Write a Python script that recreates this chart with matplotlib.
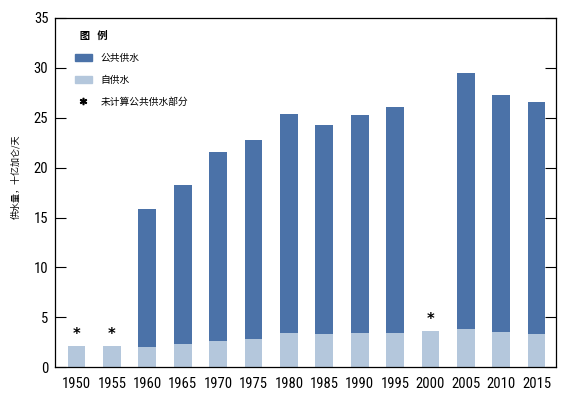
import matplotlib
matplotlib.use("Agg")
import matplotlib.pyplot as plt
from matplotlib.patches import Patch
from matplotlib.lines import Line2D

plt.rcParams['font.family'] = ['Roboto Condensed', 'Noto Sans CJK SC', 'DejaVu Sans']

years = [1950, 1955, 1960, 1965, 1970, 1975, 1980, 1985, 1990, 1995, 2000, 2005, 2010, 2015]
total = [2.1, 2.1, 15.9, 18.3, 21.6, 22.8, 25.4, 24.3, 25.3, 26.1, 3.6, 29.5, 27.3, 26.6]
self_supply = [2.1, 2.1, 2.0, 2.35, 2.6, 2.8, 3.4, 3.3, 3.4, 3.4, 3.6, 3.8, 3.5, 3.3]
not_counted = [1950, 1955, 2000]

dark = '#4b72a8'
light = '#b4c7dc'

x = list(range(len(years)))
public = [t - s for t, s in zip(total, self_supply)]

fig, ax = plt.subplots(figsize=(5.64, 3.95), dpi=100)
fig.subplots_adjust(left=0.098, right=0.986, top=0.955, bottom=0.07)

ax.bar(x, self_supply, width=0.5, color=light)
ax.bar(x, public, width=0.5, bottom=self_supply, color=dark)

for i, y in enumerate(years):
    if y in not_counted:
        ax.text(i, total[i] + 0.4, '*', ha='center', va='bottom', fontsize=10.5,
                fontweight='bold', family='DejaVu Sans')

ax.set_xlim(-0.6, len(years) - 0.45)
ax.set_ylim(0, 35)
ax.set_yticks(range(0, 36, 5))
ax.set_xticks(x)
ax.set_xticklabels([str(y) for y in years])
ax.tick_params(axis='y', direction='in', length=8, labelsize=10.5, right=True, width=0.8, pad=5)
ax.tick_params(axis='x', length=0, labelsize=10.5, pad=7)
for s in ax.spines.values():
    s.set_linewidth(0.9)

ax.set_ylabel('供水量，十亿加仑/天', fontsize=6.5,
              family=['Noto Sans CJK SC', 'DejaVu Sans'])
ax.yaxis.set_label_coords(-0.07, 0.545)

handles = [Patch(color=dark), Patch(color=light),
           Line2D([], [], ls='', marker='$*$', color='black', markersize=4.5)]
labels = ['公共供水', '自供水', '未计算公共供水部分']
leg = ax.legend(handles, labels, title='  图   例', loc='upper left', frameon=False,
                bbox_to_anchor=(0.031, 0.975), borderaxespad=0,
                prop={'family': ['Noto Sans CJK SC'], 'size': 7},
                handlelength=1.8, handleheight=0.8, labelspacing=1.25,
                handletextpad=0.85)
leg.get_title().set_fontfamily(['Noto Sans CJK SC'])
leg.get_title().set_fontsize(7.5)
leg.get_title().set_fontweight('bold')
leg._legend_box.align = 'left'

fig.savefig('out.png', dpi=100)
